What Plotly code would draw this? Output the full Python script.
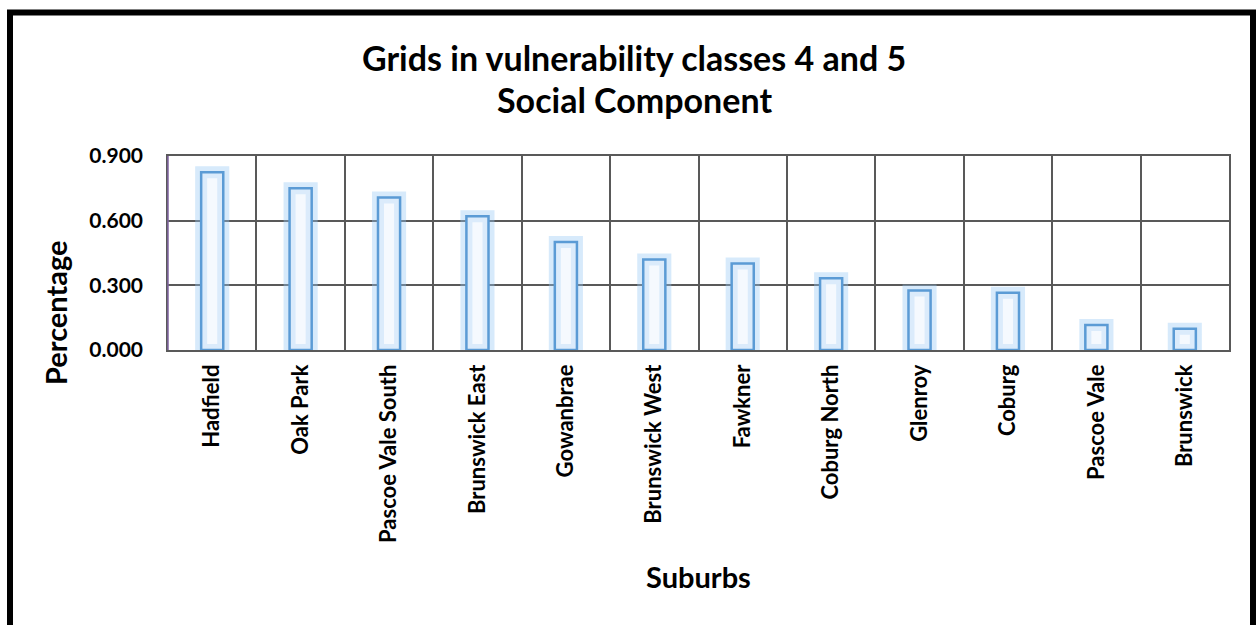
import plotly.graph_objects as go

suburbs = ["Hadfield", "Oak Park", "Pascoe Vale South", "Brunswick East", "Gowanbrae",
           "Brunswick West", "Fawkner", "Coburg North", "Glenroy", "Coburg",
           "Pascoe Vale", "Brunswick"]
percentages = [0.825, 0.750, 0.708, 0.620, 0.501, 0.420, 0.401, 0.333, 0.276, 0.266, 0.116, 0.099]
y_ticks = [0.0, 0.3, 0.6, 0.9]
y_tick_labels = ["0.000", "0.300", "0.600", "0.900"]

xs = list(range(len(suburbs)))
FONT = "Lato"

fig = go.Figure()
# soft glow
fig.add_trace(go.Bar(x=xs, y=percentages, width=0.25,
                     marker=dict(color="rgba(255,255,255,1)",
                                 line=dict(color="rgba(150,200,245,0.38)", width=12)),
                     hoverinfo="skip", showlegend=False))
# outline
fig.add_trace(go.Bar(x=xs, y=percentages, width=0.25,
                     marker=dict(color="rgba(225,238,252,0.35)",
                                 line=dict(color="#5B9BD5", width=2.5)),
                     showlegend=False))

fig.update_layout(
    width=1257, height=625,
    barmode="overlay",
    paper_bgcolor="white", plot_bgcolor="white",
    margin=dict(l=168, r=28, t=156, b=275, autoexpand=False),
    font=dict(family=FONT, color="black"),
    showlegend=False,
)

fig.update_xaxes(
    range=[-0.5, len(suburbs) - 0.5],
    tickmode="array", tickvals=xs, ticktext=suburbs,
    tickangle=-90, tickfont=dict(size=22, family=FONT, weight="bold"),
    showgrid=False, zeroline=False,
    minor=dict(tickmode="linear", tick0=0.5, dtick=1, showgrid=True,
               gridcolor="#595959", gridwidth=1.5, ticks=""),
    showline=True, linecolor="#595959", linewidth=1.5, mirror=True,
    ticks="", ticklabelstandoff=4, automargin=False,
)
fig.update_yaxes(
    range=[0, 0.9],
    tickmode="array", tickvals=y_ticks, ticktext=y_tick_labels,
    tickfont=dict(size=21, family=FONT, weight="bold"),
    showgrid=True, gridcolor="#595959", gridwidth=1.5,
    zeroline=False,
    showline=True, linecolor="#595959", linewidth=1.5, mirror=True,
    ticks="", ticklabelstandoff=19, automargin=False,
)

# left axis line (purple tint)
fig.add_shape(type="line", xref="paper", yref="paper", x0=0, x1=0, y0=0, y1=1,
              line=dict(color="#8064A2", width=1.5), layer="above")


def px_x(px):
    return (px - 168) / 1061


def px_y(py):
    return (350 - py) / 194


# outer border
fig.add_shape(type="rect", xref="paper", yref="paper",
              x0=px_x(10), x1=px_x(1253),
              y0=px_y(640), y1=px_y(12.5),
              line=dict(color="black", width=6), fillcolor="rgba(0,0,0,0)", layer="above")

fig.add_annotation(text="Grids in vulnerability classes 4 and 5", xref="paper", yref="paper",
                   x=px_x(634), y=px_y(57), showarrow=False, xanchor="center", yanchor="middle",
                   font=dict(size=34, family=FONT, weight="bold"))
fig.add_annotation(text="Social Component", xref="paper", yref="paper",
                   x=px_x(634), y=px_y(100), showarrow=False, xanchor="center", yanchor="middle",
                   font=dict(size=34, family=FONT, weight="bold"))
fig.add_annotation(text="Percentage", xref="paper", yref="paper",
                   x=px_x(55), y=px_y(313), showarrow=False, xanchor="center", yanchor="middle",
                   textangle=-90, font=dict(size=29, family=FONT, weight="bold"))
fig.add_annotation(text="Suburbs", xref="paper", yref="paper",
                   x=px_x(698), y=px_y(576), showarrow=False, xanchor="center", yanchor="middle",
                   font=dict(size=29, family=FONT, weight="bold"))

fig.write_html("out.html",
               config={"displayModeBar": False},
               post_script="document.body.style.margin='0';document.body.style.overflow='hidden';")
